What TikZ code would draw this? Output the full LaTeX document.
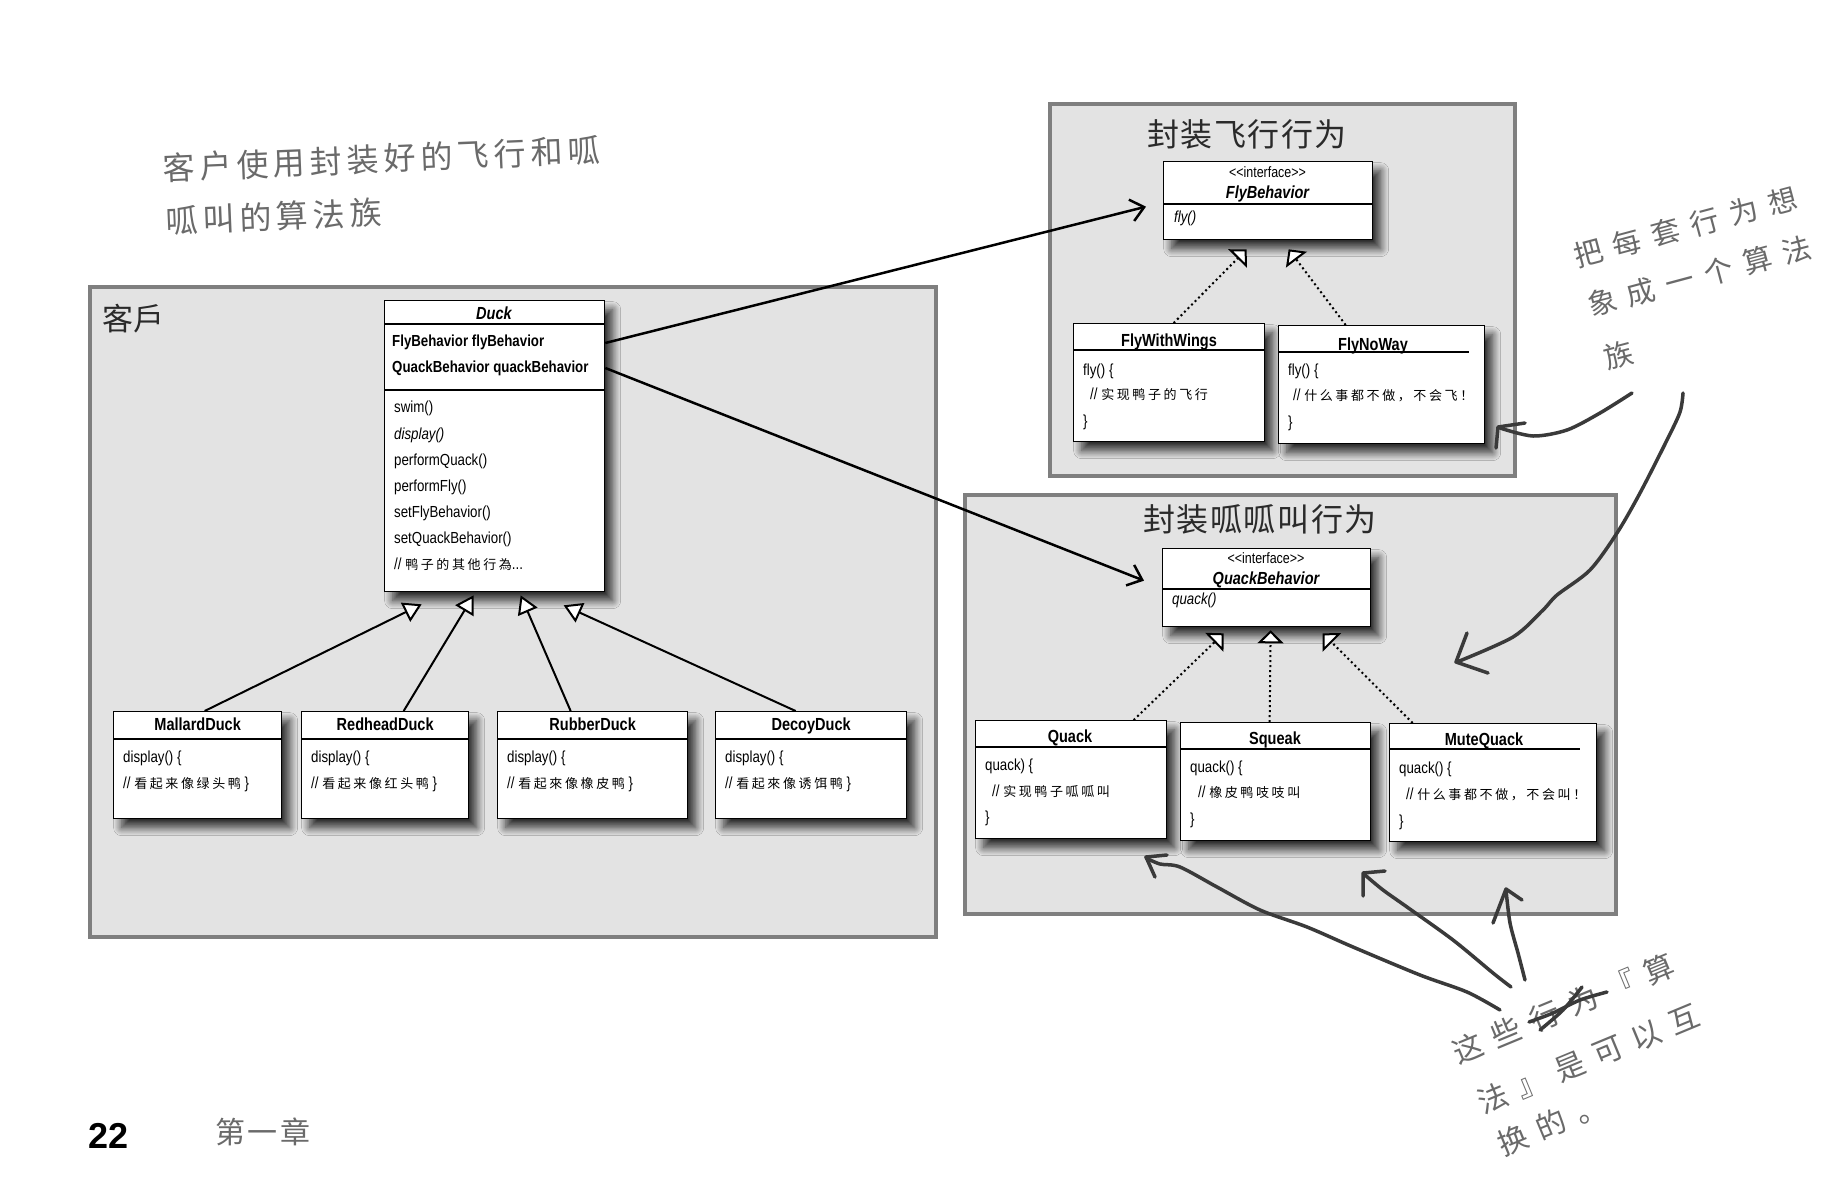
\documentclass[tikz,border=0pt]{standalone}
\usepackage{fontspec}
\setmainfont{Liberation Sans}
\newfontfamily\cond[FakeStretch=0.83]{Liberation Sans}
\newfontfamily\cjkplain{Noto Sans CJK SC}
\newfontfamily\cjkcode[LetterSpace=20]{Noto Sans CJK SC}
\newfontfamily\cjktitle[LetterSpace=5]{Noto Sans CJK SC}
\newfontfamily\cjknoteA[LetterSpace=15]{Noto Sans CJK SC}
\newfontfamily\cjknoteB[LetterSpace=39]{Noto Sans CJK SC}
\newfontfamily\cjknoteC[LetterSpace=38]{Noto Sans CJK SC}
\newfontfamily\cjkfoot[LetterSpace=9]{Noto Sans CJK SC}
\usetikzlibrary{arrows.meta,shadows.blur,calc}
\definecolor{grpfill}{HTML}{E3E3E3}
\definecolor{grpborder}{HTML}{7F7F7F}
\definecolor{handc}{HTML}{3A3A3A}
\definecolor{notec}{HTML}{6A6A6A}
\definecolor{titlec}{HTML}{2A2A2A}
\newcommand{\zh}[1]{{\cjkcode\fontsize{13}{16}\selectfont #1}}
\tikzset{
  grp/.style={draw=grpborder, line width=3.5pt, fill=grpfill, inner sep=0pt, anchor=north west},
  umlbox/.style={draw=black, line width=1.3pt, fill=white, inner sep=0pt, anchor=north west,
     blur shadow={shadow xshift=8pt, shadow yshift=-9pt, shadow blur radius=8pt, shadow blur steps=12, shadow opacity=80}},
  divider/.style={line width=1.3pt},
  ttl/.style={inner sep=0pt, text height=12.5pt, text depth=0pt, font=\cond\fontsize{17.5}{20}\selectfont\bfseries},
  stereo/.style={inner sep=0pt, text height=11pt, text depth=3pt, font=\cond\fontsize{15}{18}\selectfont},
  code/.style={inner sep=0pt, anchor=west, text height=12pt, text depth=4pt, font=\cond\fontsize{16}{19}\selectfont},
  attr/.style={inner sep=0pt, anchor=west, text height=12pt, text depth=4pt, font=\cond\fontsize{16}{19}\selectfont\bfseries},
  grptitle/.style={inner sep=0pt, text=titlec, font=\cjktitle\fontsize{32}{38}\selectfont},
  inh/.style={line width=2pt, -{Triangle[fill=white, length=18pt, width=21pt]}},
  real/.style={line width=2pt, dash pattern=on 2pt off 3pt, -{Triangle[fill=white, length=13pt, width=26pt]}},
  assoc/.style={line width=2.5pt, -{Straight Barb[length=13pt, width=22pt]}},
  hand/.style={draw=handc, line width=3.5pt, line cap=round, line join=round},
  note/.style={inner sep=0pt, anchor=west, text=notec},
}
\begin{document}
\begin{tikzpicture}[x=1pt,y=-1pt]
\useasboundingbox (0,0) rectangle (1846,1186);
\fill[white] (0,0) rectangle (1846,1186);

% ---------- group boxes ----------
\node[grp, minimum width=846, minimum height=650] (client) at (88,285) {};
\node[grp, minimum width=465, minimum height=372] (flygrp) at (1048,102) {};
\node[grp, minimum width=651, minimum height=419] (quackgrp) at (963,493) {};

\node[inner sep=0pt, anchor=west, text=titlec, font=\cjkplain\fontsize{31}{36}\selectfont] (clientT) at (102,319) {客戶};
\node[grptitle] (flyT) at (1247,134) {封装飞行行为};
\node[grptitle] (quackT) at (1260,519) {封装呱呱叫行为};

% ---------- Duck ----------
\node[umlbox, minimum width=220, minimum height=291] (duck) at (384,300) {};
\draw[divider] (384,324) -- (604,324);
\draw[divider] (384,390) -- (604,390);
\node[ttl] (duckT) at (494,313) {\itshape Duck};
\node[attr] (da1) at (392,342) {FlyBehavior flyBehavior};
\node[attr] (da2) at (392,368) {QuackBehavior quackBehavior};
\node[code] (dm1) at (394,408) {swim()};
\node[code] (dm2) at (394,435) {\itshape display()};
\node[code] (dm3) at (394,461) {performQuack()};
\node[code] (dm4) at (394,487) {performFly()};
\node[code] (dm5) at (394,513) {setFlyBehavior()};
\node[code] (dm6) at (394,539) {setQuackBehavior()};
\node[code] (dm7) at (394,565) {// \zh{鸭子的其他行為}...};

% ---------- Duck subclasses ----------
\foreach \nm/\x/\w/\t/\c in {mallard/113/168/MallardDuck/看起来像绿头鸭,
                              redhead/301/167/RedheadDuck/看起来像红头鸭,
                              rubber/497/190/RubberDuck/看起來像橡皮鸭,
                              decoy/715/191/DecoyDuck/看起來像诱饵鸭} {
  \node[umlbox, minimum width=\w, minimum height=107] (\nm) at (\x,711) {};
  \draw[divider] (\x,739) -- ++(\w,0);
  \node[ttl] (\nm-t) at ($(\nm.north)+(0,13)$) {\t};
  \node[code] (\nm-a) at (\x+10,758) {display() \{};
  \node[code] (\nm-b) at (\x+10,784) {// \zh{\c} \}};
}

% ---------- FlyBehavior ----------
\node[umlbox, minimum width=209, minimum height=78] (flyb) at (1163,161) {};
\draw[divider] (1163,204) -- (1372,204);
\node[stereo] (flybS) at (1267.5,173) {<{}<interface>{}>};
\node[ttl] (flybT) at (1267.5,192) {\itshape FlyBehavior};
\node[code] (flybM) at (1174,218) {\itshape fly()};

\node[umlbox, minimum width=191, minimum height=118] (fww) at (1073,323) {};
\draw[divider] (1073,350) -- (1264,350);
\node[ttl] (fwwT) at (1169,340) {FlyWithWings};
\node[code] (fww1) at (1083,371) {fly() \{};
\node[code] (fww2) at (1090,395) {// \zh{实现鸭子的飞行}};
\node[code] (fww3) at (1083,422) {\}};

\node[umlbox, minimum width=206, minimum height=118] (fnw) at (1278,325) {};
\draw[divider] (1278,352) -- (1469,352);
\node[ttl] (fnwT) at (1373,344) {FlyNoWay};
\node[code] (fnw1) at (1288,371) {fly() \{};
\node[code] (fnw2) at (1293,396) {// \zh{什么事都不做，不会飞！}};
\node[code] (fnw3) at (1288,423) {\}};

% ---------- QuackBehavior ----------
\node[umlbox, minimum width=208, minimum height=78] (quackb) at (1162,548) {};
\draw[divider] (1162,589) -- (1370,589);
\node[stereo] (qbS) at (1266,559) {<{}<interface>{}>};
\node[ttl] (qbT) at (1266,578) {\itshape QuackBehavior};
\node[code] (qbM) at (1172,600) {\itshape quack()};

\node[umlbox, minimum width=191, minimum height=118] (quack) at (975,720) {};
\draw[divider] (975,747) -- (1166,747);
\node[ttl] (quackTt) at (1070,736) {Quack};
\node[code] (q1) at (985,766) {quack) \{};
\node[code] (q2) at (992,792) {// \zh{实现鸭子呱呱叫}};
\node[code] (q3) at (985,818) {\}};

\node[umlbox, minimum width=190, minimum height=118] (squeak) at (1180,722) {};
\draw[divider] (1180,749) -- (1370,749);
\node[ttl] (sqT) at (1275,738) {Squeak};
\node[code] (s1) at (1190,768) {quack() \{};
\node[code] (s2) at (1198,793) {// \zh{橡皮鸭吱吱叫}};
\node[code] (s3) at (1190,820) {\}};

\node[umlbox, minimum width=207, minimum height=118] (mute) at (1389,723) {};
\draw[divider] (1389,749) -- (1580,749);
\node[ttl] (muT) at (1484,739) {MuteQuack};
\node[code] (m1) at (1399,769) {quack() \{};
\node[code] (m2) at (1406,795) {// \zh{什么事都不做，不会叫！}};
\node[code] (m3) at (1399,822) {\}};

% ---------- connectors ----------
\draw[inh] ($(mallard.north)+(7,0)$) -- ($(duck.south)+(-73,12)$);
\draw[inh] ($(redhead.north)+(18.5,0)$) -- ($(duck.south)+(-21,3)$);
\draw[inh] ($(rubber.north)+(-22,0)$) -- ($(duck.south)+(26,3)$);
\draw[inh] ($(decoy.north)+(-15.5,0)$) -- ($(duck.south)+(69,13)$);

\draw[assoc] ($(duck.north east)+(0,43)$) -- ($(flyb.west)+(-17,6)$);
\draw[assoc] ($(duck.north east)+(0,68)$) -- ($(quackb.west)+(-18,-7)$);

\draw[real] ($(fww.north)+(4.5,0)$) -- ($(flyb.south)+(-21.5,9)$);
\draw[real] ($(fnw.north)+(-36,0)$) -- ($(flyb.south)+(20.5,9)$);
\draw[real] ($(quack.north)+(62.5,0)$) -- ($(quackb.south)+(-43,6)$);
\draw[real] ($(squeak.north)+(-6,0)$) -- ($(quackb.south)+(4,3)$);
\draw[real] ($(mute.north)+(-80.5,0)$) -- ($(quackb.south)+(56,6)$);

% ---------- annotations ----------
\node[note, rotate=2.4, font=\cjknoteA\fontsize{32}{38}\selectfont] (n1a) at (163,168) {客户使用封装好的飞行和呱};
\node[note, rotate=2.4, font=\cjknoteA\fontsize{32}{38}\selectfont] (n1b) at (166,221) {呱叫的算法族};

\node[note, rotate=15, font=\cjknoteB\fontsize{29}{34}\selectfont] (n2a) at (1574,257) {把每套行为想};
\node[note, rotate=15, font=\cjknoteB\fontsize{29}{34}\selectfont] (n2b) at (1588,306) {象成一个算法};
\node[note, rotate=15, font=\cjknoteB\fontsize{29}{34}\selectfont] (n2c) at (1604,359) {族};

\node[note, rotate=22.5, font=\cjknoteC\fontsize{30}{36}\selectfont] (n3a) at (1454,1054) {这些行为『算};
\node[note, rotate=22.5, font=\cjknoteC\fontsize{30}{36}\selectfont] (n3b) at (1479,1104) {法』是可以互};
\node[note, rotate=22.5, font=\cjknoteC\fontsize{30}{36}\selectfont] (n3c) at (1499,1146) {换的。};

% freehand arrows
\draw[hand] plot[smooth, tension=0.5] coordinates {(1632,393) (1600,413) (1567,430) (1533,436) (1500,428)};
\draw[hand] (1525,423) -- (1498,427) -- (1496,448);

\draw[hand] plot[smooth, tension=0.5] coordinates {(1683,393) (1680,412) (1667,440) (1640,493) (1617,533) (1590,570) (1557,595) (1543,610) (1513,637) (1457,662)};
\draw[hand] (1467,633) -- (1456,662) -- (1488,673);

\draw[hand] plot[smooth, tension=0.5] coordinates {(1500,1010) (1467,992) (1420,975) (1353,947) (1307,927) (1260,910) (1217,887) (1180,867) (1160,864) (1146,858)};
\draw[hand] (1167,855) -- (1146,857) -- (1155,877);

\draw[hand] plot[smooth, tension=0.5] coordinates {(1511,987) (1493,973) (1453,940) (1407,907) (1383,890) (1365,875)};
\draw[hand] (1385,871) -- (1363,873) -- (1363,896);

\draw[hand] plot[smooth, tension=0.5] coordinates {(1525,980) (1518,953) (1510,923) (1506,890)};
\draw[hand] (1522,900) -- (1506,889) -- (1493,923);

% strike-through of 行为
\draw[hand] plot[smooth, tension=0.5] coordinates {(1529,1022) (1553,1013) (1580,1000) (1607,992)};
\draw[hand] plot[smooth, tension=0.5] coordinates {(1540,1030) (1563,1010) (1582,987)};

% ---------- footer ----------
\node[inner sep=0pt, anchor=west, font=\fontsize{36}{40}\selectfont\bfseries] (pg) at (88,1136) {22};
\node[note, font=\cjkfoot\fontsize{30}{36}\selectfont] (chap) at (215,1132) {第一章};
\end{tikzpicture}
\end{document}
